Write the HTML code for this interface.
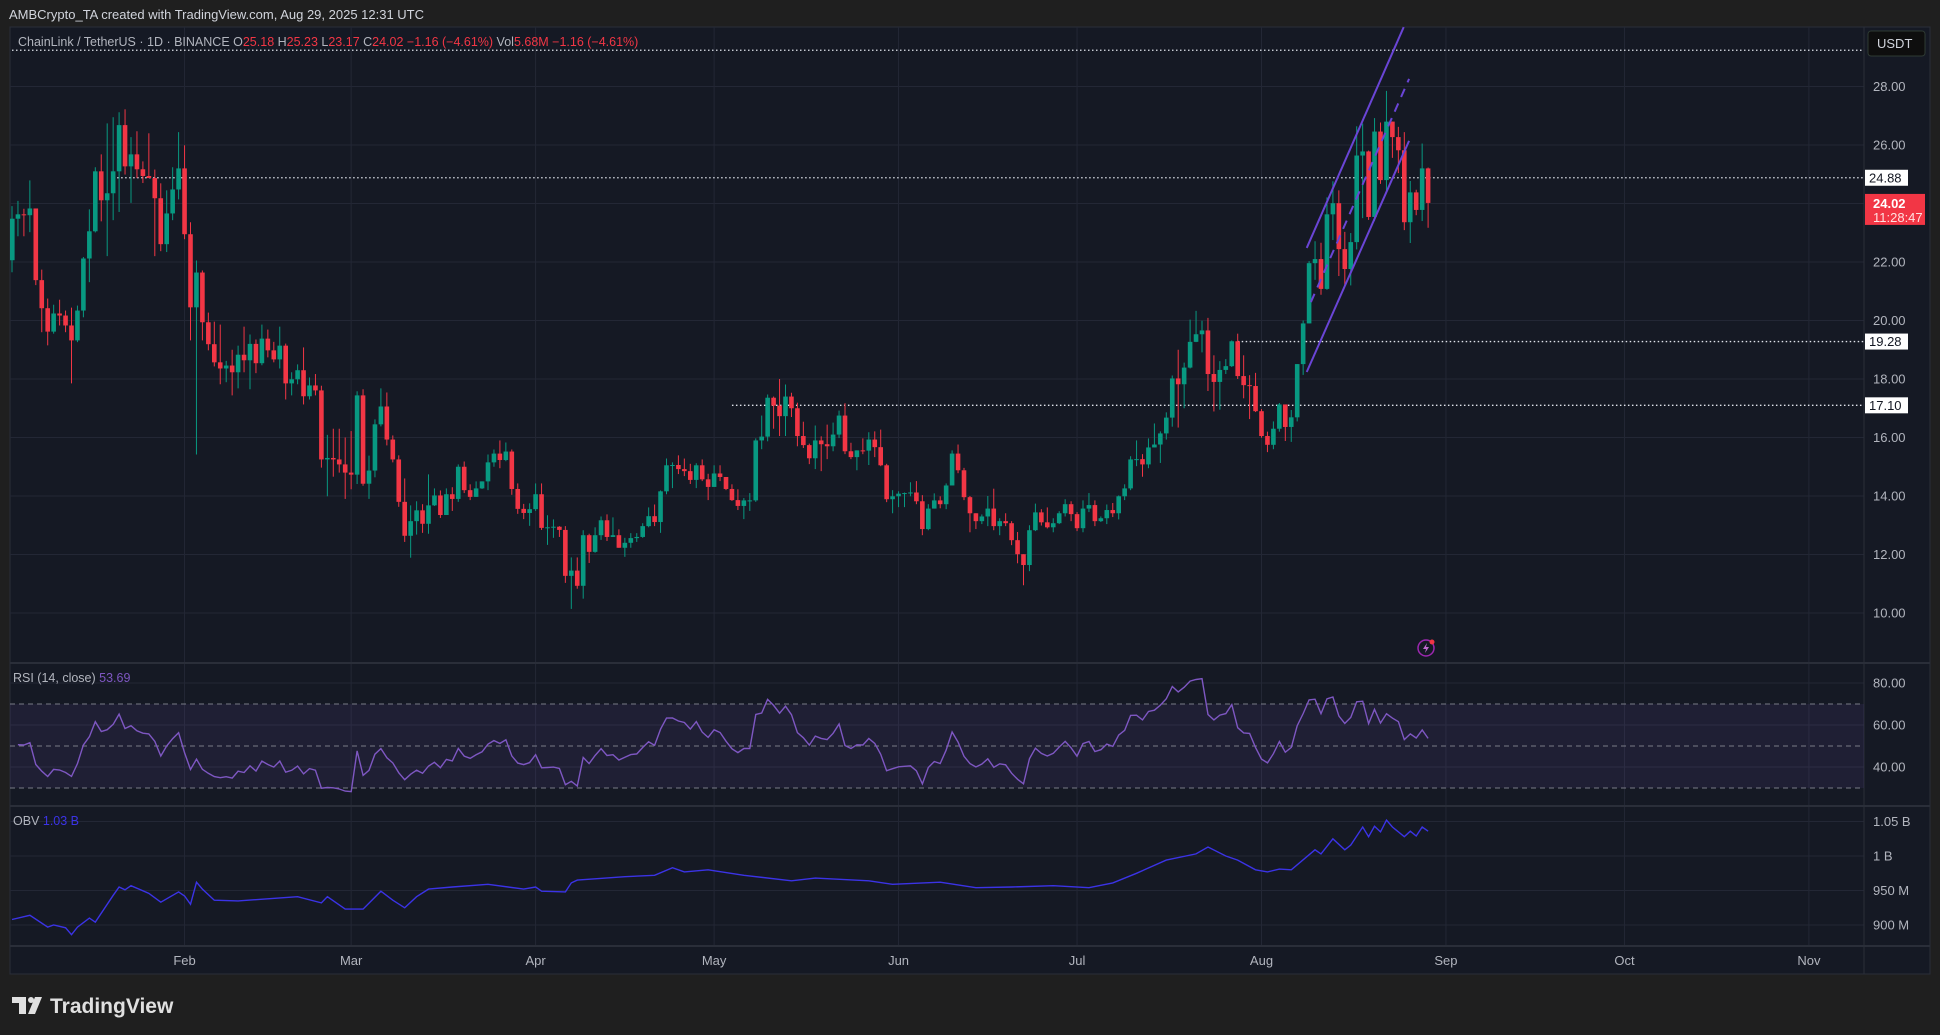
<!DOCTYPE html>
<html><head><meta charset="utf-8"><title>ChainLink / TetherUS chart</title>
<style>
html,body{margin:0;padding:0;background:#1e1e1e;width:1940px;height:1035px;overflow:hidden;font-family:"Liberation Sans",sans-serif;}
svg{display:block}
</style></head>
<body>
<svg id="chart" width="1940" height="1035" viewBox="0 0 1940 1035" xmlns="http://www.w3.org/2000/svg">
<rect x="0" y="0" width="1940" height="1035" fill="#1f1f1f"/>
<text x="9" y="19" fill="#d1d4dc" font-size="13" font-family="Liberation Sans, sans-serif">AMBCrypto_TA created with TradingView.com, Aug 29, 2025 12:31 UTC</text>
<rect x="10" y="27" width="1920" height="947" fill="#151924" stroke="#2a2e39"/>
<g id="grid"></g>
<g id="bands"></g>
<g id="levels"></g>
<g id="candles"></g>
<g id="drawings"></g>
<g id="rsi"></g>
<g id="obv"></g>
<g id="axes"></g>
<text x="18" y="46" font-size="12.5" font-family="Liberation Sans, sans-serif"><tspan fill="#b2b5be">ChainLink / TetherUS · 1D · BINANCE </tspan><tspan fill="#b2b5be"> O</tspan><tspan fill="#f23645">25.18</tspan><tspan fill="#b2b5be"> H</tspan><tspan fill="#f23645">25.23</tspan><tspan fill="#b2b5be"> L</tspan><tspan fill="#f23645">23.17</tspan><tspan fill="#b2b5be"> C</tspan><tspan fill="#f23645">24.02 −1.16 (−4.61%)</tspan><tspan fill="#b2b5be">  Vol</tspan><tspan fill="#f23645">5.68M  −1.16 (−4.61%)</tspan></text>
<text x="13" y="682" font-size="12.5" fill="#b2b5be" font-family="Liberation Sans, sans-serif">RSI (14, close) <tspan fill="#7e57c2">53.69</tspan></text>
<text x="13" y="825" font-size="12.5" fill="#b2b5be" font-family="Liberation Sans, sans-serif">OBV <tspan fill="#3b33e6">1.03 B</tspan></text>
<rect x="1868" y="31" width="57" height="25" rx="3" fill="#0e0e0e" stroke="#2e3a33"/>
<text x="1877" y="48" font-size="13" fill="#d1d4dc" font-family="Liberation Sans, sans-serif">USDT</text>
<g>
<rect x="12" y="997" width="14" height="6" fill="#e0e0e0"/><rect x="19" y="997" width="7" height="17" fill="#e0e0e0"/><circle cx="31" cy="1000" r="3" fill="#e0e0e0"/><polygon points="35,997 42,997 35,1014 28,1014" fill="#e0e0e0"/>
<text x="50" y="1013" font-size="21" font-weight="bold" fill="#e0e0e0" font-family="Liberation Sans, sans-serif">TradingView</text>
</g>
<g transform="translate(1426,648)">
<circle r="8" fill="none" stroke="#9c27b0" stroke-width="1.5"/><path d="M1,-5 L-3,1 L0,1 L-1,5 L3,-1 L0,-1 Z" fill="#c06ad0"/><circle cx="6" cy="-6" r="2.5" fill="#f23645"/>
</g>
</svg>
<script>
const closes=[23.48,23.63,23.6,23.83,21.38,20.42,19.62,20.24,20.17,19.83,
19.32,20.34,22.12,23.05,25.1,24.11,24.35,25.1,26.68,25.27,
25.68,25.17,24.94,24.87,24.18,22.61,23.66,24.48,25.2,22.95,
20.45,21.64,19.94,19.19,18.57,18.36,18.46,18.23,18.83,18.64,
19.2,18.54,19.38,18.98,18.67,19.14,17.85,17.99,18.3,17.41,
17.78,17.61,15.25,15.3,15.25,15.08,14.8,14.73,17.44,14.42,
14.87,16.45,17.06,15.93,15.25,13.8,12.64,13.14,13.51,13.05,
13.68,14.02,13.35,14.06,13.9,15.0,14.2,13.97,14.26,14.5,
15.15,15.45,15.23,15.52,14.24,13.56,13.42,13.55,14.06,12.91,
12.93,12.95,12.84,11.27,11.45,10.93,12.66,12.09,12.66,13.17,
12.6,12.66,12.23,12.4,12.56,12.6,12.97,13.31,13.11,14.16,
15.05,15.06,14.92,14.85,14.55,15.05,14.57,14.31,14.77,14.65,
14.24,13.86,13.66,13.85,13.85,15.9,16.03,17.36,17.09,16.73,
17.4,17.0,16.05,15.74,15.29,15.9,15.77,15.7,16.1,16.75,
15.53,15.33,15.56,15.55,15.93,15.67,15.05,13.89,13.99,14.08,
14.1,14.12,13.82,12.87,13.57,13.85,13.72,14.36,15.45,14.88,
13.96,13.41,13.14,13.3,13.57,12.97,13.14,13.07,12.49,12.01,
11.64,12.83,13.44,13.1,12.93,13.07,13.41,13.72,13.38,12.9,
13.57,13.69,13.14,13.24,13.52,13.41,13.99,14.26,15.25,15.26,
15.08,15.66,15.76,16.14,16.68,18.02,17.82,18.39,19.27,19.53,
19.66,18.17,17.9,18.31,18.44,19.29,18.1,17.79,17.76,16.9,
16.05,15.75,16.3,17.13,16.36,16.69,18.51,19.9,21.96,22.1,
21.08,23.63,24.01,22.44,21.76,22.68,25.64,25.78,23.54,26.46,
24.8,26.8,26.27,25.82,23.36,24.38,23.78,25.2,24.02];
const highs=[23.91,24.09,23.82,24.79,23.83,21.74,20.75,20.54,20.71,20.34,
20.44,20.51,22.17,23.8,25.24,25.68,26.74,26.95,27.12,27.22,
26.27,26.47,25.44,26.4,25.16,24.69,24.45,25.24,26.44,25.99,
23.36,22.05,21.71,20.27,19.96,19.86,18.62,19.0,19.14,19.79,
19.52,19.35,19.86,19.69,19.27,19.79,19.21,18.23,18.5,19.08,
18.05,18.17,17.77,16.09,16.3,16.3,16.0,16.22,17.58,17.65,
15.38,16.62,17.68,17.54,16.07,15.39,14.6,13.68,13.82,13.72,
14.74,14.26,14.19,14.26,14.3,15.08,15.18,14.4,14.5,14.5,
15.42,15.59,15.9,15.83,15.59,14.43,13.73,13.75,14.43,14.43,
13.34,13.2,12.97,12.97,11.9,11.9,12.83,12.71,12.93,13.3,
13.37,13.27,12.86,12.57,12.73,12.73,13.07,13.61,13.71,14.19,
15.28,15.15,15.39,15.28,15.1,15.12,15.25,14.76,15.05,15.05,
14.65,14.4,14.23,13.93,14.1,15.97,16.75,17.47,17.4,18.0,
17.81,17.53,17.19,16.54,15.79,16.41,16.04,16.44,16.51,16.92,
17.17,15.82,15.56,15.97,16.18,16.21,16.27,15.1,14.2,14.16,
14.12,14.47,14.51,14.03,13.72,14.09,13.99,14.43,15.56,15.76,
14.96,14.0,13.14,13.37,14.0,14.25,13.24,13.41,13.14,12.77,
11.95,13.0,13.74,13.55,13.61,13.24,13.48,13.89,13.82,13.45,
13.85,14.1,13.85,13.3,13.71,13.76,14.02,14.4,15.36,15.9,
15.43,15.97,16.48,16.21,16.86,18.12,19.0,18.56,20.03,20.33,
19.99,20.09,18.81,18.61,18.68,19.32,19.55,18.81,18.13,18.21,
16.97,16.2,16.55,17.18,17.13,16.94,18.51,20.0,22.03,22.71,
22.66,24.21,24.76,24.45,23.03,22.99,26.64,26.73,25.81,26.92,
26.77,27.85,26.8,26.62,26.44,24.77,24.47,26.05,25.23];
const lows=[21.65,22.88,22.88,23.02,21.21,19.6,19.15,19.55,19.83,19.6,
17.85,19.26,20.11,21.31,23.01,23.39,22.2,23.43,23.71,24.99,
24.02,24.87,24.7,24.87,22.2,22.37,22.34,23.43,24.14,22.78,
19.32,15.42,19.32,18.98,18.43,17.82,17.89,17.44,17.68,18.23,
17.65,18.2,18.47,18.74,18.57,18.36,17.3,17.44,17.82,17.13,
17.3,17.44,14.97,13.99,14.66,14.8,13.9,14.23,14.41,14.35,
13.9,14.64,16.38,15.73,15.15,13.63,12.43,11.89,12.68,12.74,
12.71,13.66,13.25,13.39,13.49,13.8,14.1,13.86,13.97,14.24,
14.2,15.0,14.95,15.19,14.04,13.39,13.21,12.98,13.49,12.84,
12.33,12.57,12.6,11.03,10.14,10.83,10.49,11.71,12.06,12.5,
12.46,12.6,12.23,11.92,12.23,12.43,12.57,12.93,12.97,12.74,
14.06,14.27,14.75,14.68,14.41,14.27,14.51,13.86,14.31,14.51,
14.2,13.83,13.52,13.21,13.49,13.8,15.6,15.87,16.3,16.05,
16.05,16.7,15.7,15.64,15.09,14.92,14.85,15.26,15.53,15.98,
15.43,15.26,14.88,15.43,15.06,15.33,15.02,13.79,13.41,13.62,
13.62,13.99,13.72,12.66,12.83,13.82,13.58,13.55,14.43,14.78,
13.86,12.76,12.87,13.04,12.97,12.83,12.66,12.97,12.32,11.7,
10.95,11.43,12.8,12.99,12.89,12.76,13.04,13.3,13.14,12.8,
12.76,13.45,12.97,13.11,13.04,13.28,13.2,13.86,14.2,15.02,
14.66,14.95,15.71,15.13,15.93,16.37,16.34,17.0,18.36,19.26,
18.91,17.59,16.89,16.95,18.17,18.41,18.0,17.34,16.63,16.87,
15.99,15.5,15.6,16.2,15.88,15.85,16.55,18.14,19.96,21.39,
20.88,21.05,22.75,21.52,21.15,21.2,22.43,23.5,23.44,23.4,
24.67,24.39,25.56,25.04,23.09,22.65,23.6,23.4,23.17];
const firstOpen=22.06;
const obvIdx=[0,3,6,7,9,10,11,13,14,17,18,19,20,23,25,28,29,30,31,32,34,38,43,48,52,53,56,59,62,64,66,68,70,74,80,86,88,89,93,94,95,98,103,108,111,113,117,123,131,135,144,148,156,162,168,175,181,185,189,194,199,201,204,206,209,211,213,215,219,220,222,224,225,227,228,229,230,231,232,234,235,236,237,238];
const obvVal=[908,914,897,900,896,886,897,910,904,943,955,951,957,946,933,948,942,930,962,952,936,935,938,941,932,941,923,923,949,936,925,941,952,955,959,952,955,949,948,961,965,967,970,972,983,977,980,972,964,968,964,959,962,954,955,957,954,961,975,994,1003,1013,1000,994,980,977,981,980,1009,1003,1025,1009,1016,1042,1028,1043,1035,1052,1042,1028,1036,1029,1042,1036];
const priceTicks=[28,26,24,22,20,18,16,14,12,10];
const rsiTicks=[80,60,40];
const obvTicks=[1050,1000,950,900];
const obvTickLabels=["1.05 B","1 B","950 M","900 M"];
const months=["Feb","Mar","Apr","May","Jun","Jul","Aug","Sep","Oct","Nov"];
const monthDayOffset=[29,57,88,118,149,179,210,241,271,302];
const levelPrices=[29.24,24.88,19.28,17.10];
const levelStartIdx=[0,17,206,121];
const chanUpper=[[217.6,22.48],[233.9,30.03]];
const chanLower=[[217.6,18.24],[234.8,26.14]];
const chanMid=[[218.3,20.63],[234.8,28.26]];

const NS="http://www.w3.org/2000/svg";
const X0=12, DX=5.95, LEFT=10, RIGHT=1864;
const xi=i=>X0+i*DX;
const py=p=>145+(26-p)*29.25;
const ry=v=>746-(v-50)*2.1;
const oy=v=>856-(v-1000)*0.69;
function mk(tag,attrs,parent){const e=document.createElementNS(NS,tag);for(const k in attrs)e.setAttribute(k,attrs[k]);parent.appendChild(e);return e;}
const G=id=>document.getElementById(id);

const grid=G('grid');
priceTicks.forEach(p=>{const l=mk('line',{x1:LEFT,x2:RIGHT,y1:py(p),y2:py(p),stroke:'#232735','stroke-width':1},grid);

});
rsiTicks.forEach(v=>{const l=mk('line',{x1:LEFT,x2:RIGHT,y1:ry(v),y2:ry(v),stroke:'#232735'},grid);

});
obvTicks.forEach(v=>{const l=mk('line',{x1:LEFT,x2:RIGHT,y1:oy(v),y2:oy(v),stroke:'#232735'},grid);

});
monthDayOffset.forEach(d=>{const x=xi(d);const l=mk('line',{x1:x,x2:x,y1:27,y2:946,stroke:'#232735'},grid);

});
[663,806,946].forEach(y=>{const l=mk('line',{x1:LEFT,x2:1930,y1:y,y2:y,stroke:'#2a2e39','stroke-width':2},grid);

});
const ax=mk('line',{x1:RIGHT,x2:RIGHT,y1:27,y2:974,stroke:'#2a2e39'},grid);



const bands=G('bands');
const br=mk('rect',{x:LEFT,y:ry(70),width:RIGHT-LEFT,height:ry(30)-ry(70),fill:'rgba(126,87,194,0.1)'},bands);


[70,50,30].forEach(v=>{const l=mk('line',{x1:LEFT,x2:RIGHT,y1:ry(v),y2:ry(v),stroke:'#787b86','stroke-dasharray':'5,4'},bands);

});

const lv=G('levels');
levelPrices.forEach((p,k)=>{const l=mk('line',{x1:Math.max(LEFT,xi(levelStartIdx[k])),x2:RIGHT,y1:py(p),y2:py(p),stroke:'#e0e3eb','stroke-width':1.3,'stroke-dasharray':'1.5,2.5'},lv);

});

const cg=G('candles');
for(let i=0;i<closes.length;i++){
 const o=i===0?firstOpen:closes[i-1], c=closes[i];
 const h=Math.max(highs[i],o,c), lo=Math.min(lows[i],o,c);
 const col=c>=o?'#089981':'#f23645';
 const x=xi(i);
 if(x<LEFT)continue;
 const w=mk('line',{x1:x,x2:x,y1:py(h),y2:py(lo),stroke:col,'stroke-width':1},cg);
 
 
 const top=py(Math.max(o,c)), bh=Math.max(1,Math.abs(py(o)-py(c)));
 const b=mk('rect',{x:Math.max(LEFT,x-2.3),y:top,width:4.6,height:bh,fill:col},cg);
 
 
}

const dr=G('drawings');
[[chanUpper,''],[chanLower,''],[chanMid,'9,7']].forEach(([pts,dash])=>{
 const l=mk('line',{x1:xi(pts[0][0]),y1:py(pts[0][1]),x2:xi(pts[1][0]),y2:py(pts[1][1]),stroke:'#6a45d6','stroke-width':2,'stroke-dasharray':dash},dr);
 
 
});

// RSI (Wilder 14) from closes, seeded with neutral averages
const rsiVals=[];
{let ag=0.45,al=0.45;const n=14;
 for(let i=1;i<closes.length;i++){const d=closes[i]-closes[i-1];const g=Math.max(d,0),l=Math.max(-d,0);
  ag=(ag*(n-1)+g)/n;al=(al*(n-1)+l)/n;
  const rs=al===0?100:ag/al;rsiVals.push([i,100-100/(1+rs)]);
 }}
const rsiLine=mk('polyline',{points:rsiVals.map(([i,v])=>xi(i).toFixed(1)+','+ry(v).toFixed(1)).join(' '),fill:'none',stroke:'#7e57c2','stroke-width':1.4},G('rsi'));



const obvLine=mk('polyline',{points:obvIdx.map((i,k)=>Math.max(LEFT,xi(i)).toFixed(1)+','+oy(obvVal[k]).toFixed(1)).join(' '),fill:'none',stroke:'#3b33e6','stroke-width':1.4},G('obv'));



const axg=G('axes');
const T=(x,y,s,attrs)=>{const t=mk('text',Object.assign({x:x,y:y,'font-size':13,fill:'#b2b5be','font-family':'Liberation Sans, sans-serif'},attrs||{}),axg);t.textContent=s;return t;};
priceTicks.forEach(p=>{const t=T(1873,py(p)+4.5,p.toFixed(2));

});
rsiTicks.forEach(v=>{const t=T(1873,ry(v)+4.5,v.toFixed(2));

});
obvTicks.forEach((v,k)=>{const t=T(1873,oy(v)+4.5,obvTickLabels[k]);

});
months.forEach((m,k)=>{const t=T(xi(monthDayOffset[k]),965,m,{'text-anchor':'middle'});

});
[24.88,19.28,17.10].forEach(p=>{const r=mk('rect',{x:1865,y:py(p)-8,width:43,height:16,fill:'#ffffff'},axg);


const t=T(1869,py(p)+4.5,p.toFixed(2),{fill:'#131722'});

});
const last=closes[closes.length-1];
const lr=mk('rect',{x:1865,y:py(last)-9,width:60,height:31,fill:'#f23645'},axg);


const lt=T(1873,py(last)+5,last.toFixed(2),{fill:'#ffffff','font-weight':'bold'});


const ct=T(1873,py(last)+19,'11:28:47',{fill:'#ffe0e0'});


</script>
</body></html>
